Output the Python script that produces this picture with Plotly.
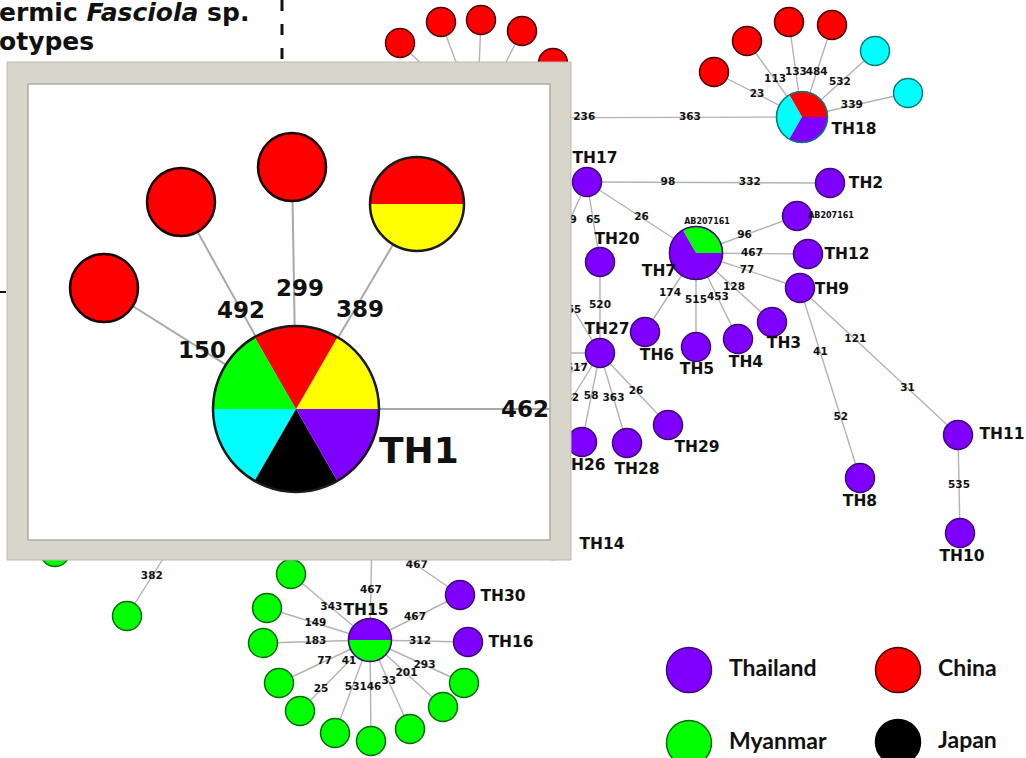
import math
import plotly.graph_objects as go

# ---------------------------------------------------------------- data
legend_countries = ["Thailand", "China", "Myanmar", "Japan"]

# haplotypes shared by several countries: (country, share) in slice order,
# slices run counter-clockwise from 3 o'clock
mixed_haplotypes = {
    "TH1": [("Group6", 1), ("China", 1), ("Myanmar", 1), ("Group5", 1), ("Japan", 1), ("Thailand", 1)],
    "TH7": [("Myanmar", 1), ("Thailand", 2)],
    "TH15": [("Thailand", 1), ("Myanmar", 1)],
    "TH18": [("China", 1), ("Group5", 1), ("Thailand", 1)],
    "CN_Y": [("China", 1), ("Group6", 1)],
}

thai_haplotypes = ["TH2", "TH3", "TH4", "TH5", "TH6", "TH8", "TH9", "TH10", "TH11", "TH12",
                   "TH13", "TH14", "TH16", "TH17", "TH19", "TH20", "TH21", "TH22", "TH23",
                   "TH24", "TH25", "TH26", "TH27", "TH28", "TH29", "TH30", "AB207161"]
china_haplotypes = ["CN1", "CN2", "CN3", "CN4", "CN5", "CN6", "CN7", "CN8", "CN9"]
myanmar_haplotypes = ["MM1", "MM2", "MM3", "MM4", "MM5", "MM6", "MM7", "MM8", "MM9", "MM10",
                      "MM11", "MM12", "MM13"]
group5_haplotypes = ["X1", "X2"]

# network links with the mutation positions written on them
edges = [
    ("TH19", "TH18", ["236", "363"]),
    ("TH19", "CN1", []), ("TH19", "CN2", []), ("TH19", "CN3", []), ("TH19", "CN4", []), ("TH19", "CN5", []),
    ("TH18", "CN6", ["23"]), ("TH18", "CN7", ["113"]), ("TH18", "CN8", ["133"]), ("TH18", "CN9", ["484"]),
    ("TH18", "X1", ["532"]), ("TH18", "X2", ["339"]),
    ("TH17", "TH2", ["98", "332"]), ("TH17", "TH7", ["26"]), ("TH17", "TH20", ["65"]), ("TH17", "TH21", ["49"]),
    ("TH20", "TH27", ["520"]),
    ("TH7", "AB207161", ["96"]), ("TH7", "TH12", ["467"]), ("TH7", "TH9", ["77"]), ("TH7", "TH3", ["128"]),
    ("TH7", "TH4", ["453"]), ("TH7", "TH5", ["515"]), ("TH7", "TH6", ["174"]),
    ("TH9", "TH8", ["41", "52"]), ("TH9", "TH11", ["121", "31"]), ("TH11", "TH10", ["535"]),
    ("TH27", "TH21", ["55"]), ("TH27", "TH22", []), ("TH27", "TH23", ["517"]), ("TH27", "TH24", ["42"]),
    ("TH27", "TH26", ["58"]), ("TH27", "TH28", ["363"]), ("TH27", "TH29", ["26"]),
    ("TH24", "TH14", []),
    ("TH15", "TH25", ["467"]), ("TH15", "TH30", ["467"]), ("TH30", "TH13", ["467"]), ("TH15", "TH16", ["312"]),
    ("TH15", "MM1", ["343"]), ("TH15", "MM2", ["149"]), ("TH15", "MM3", ["183"]), ("TH15", "MM4", ["77"]),
    ("TH15", "MM5", ["41", "25"]), ("TH15", "MM6", ["53"]), ("TH15", "MM7", ["146"]), ("TH15", "MM8", ["33"]),
    ("TH15", "MM9", ["201"]), ("TH15", "MM10", ["293"]),
    ("MM11", "MM13", ["382"]), ("MM13", "MM12", []),
]

# enlarged view of the TH1 star
inset_edges = [
    ("TH1", "CN10", ["150"]), ("TH1", "CN11", ["492"]), ("TH1", "CN12", ["299"]),
    ("TH1", "CN_Y", ["389"]), ("TH1", "TH1_link", ["462"]),
]
inset_china = ["CN10", "CN11", "CN12"]

title_lines = ["ermic <i>Fasciola</i> sp.", "otypes"]

# ---------------------------------------------------------------- styles
FILL = {"Thailand": "#8000ff", "China": "#ff0000", "Myanmar": "#00ff00", "Japan": "#000000",
        "Group5": "#00ffff", "Group6": "#ffff00"}
RIM = {"Thailand": "#3c0a78", "China": "#4a0000", "Myanmar": "#0a6a0a", "Japan": "#000000",
       "Group5": "#0a7a7a", "Group6": "#6a6a00"}
EDGE_COLOR = "#b3b3b3"
LABEL_FONT = "DejaVu Sans"

# ---------------------------------------------------------------- layout (page pixels)
pos = {
    "TH18": (802, 117), "TH19": (477, 118),
    "CN1": (400, 43), "CN2": (441, 22), "CN3": (481, 20), "CN4": (522, 31), "CN5": (553, 63),
    "CN6": (714, 72), "CN7": (747, 41), "CN8": (789, 22), "CN9": (832, 25), "X1": (875, 51), "X2": (908, 93),
    "TH17": (587, 182), "TH2": (830, 183), "TH7": (696, 253), "AB207161": (797, 216), "TH12": (808, 254),
    "TH9": (800, 288), "TH3": (772, 322), "TH4": (738, 339), "TH5": (696, 347), "TH6": (645, 332),
    "TH20": (600, 262), "TH27": (600, 353), "TH26": (582, 442), "TH28": (627, 443), "TH29": (668, 425),
    "TH8": (860, 478), "TH11": (958, 435), "TH10": (960, 533),
    "TH21": (548, 268), "TH22": (515, 353), "TH23": (530, 400), "TH24": (540, 450), "TH14": (553, 545),
    "TH15": (370, 640), "TH25": (373, 480), "TH30": (460, 595), "TH13": (380, 540), "TH16": (468, 642),
    "MM1": (291, 574), "MM2": (267, 608), "MM3": (263, 643), "MM4": (279, 683), "MM5": (300, 711),
    "MM6": (335, 733), "MM7": (371, 741), "MM8": (410, 729), "MM9": (443, 707), "MM10": (464, 683),
    "MM11": (127, 616), "MM12": (55, 552), "MM13": (200, 500),
}
radius = {"TH18": 26, "TH7": 27, "TH15": 22}
DEFAULT_R = 15

# where each mutation label sits along its link (fraction from the first node)
label_frac = {
    ("TH19", "TH18"): [0.33, 0.655],
    ("TH18", "CN6"): [0.51], ("TH18", "CN7"): [0.49], ("TH18", "CN8"): [0.47], ("TH18", "CN9"): [0.49],
    ("TH18", "X1"): [0.52], ("TH18", "X2"): [0.47],
    ("TH17", "TH2"): [0.333, 0.67], ("TH17", "TH7"): [0.5], ("TH17", "TH20"): [0.48], ("TH17", "TH21"): [0.45],
    ("TH20", "TH27"): [0.48],
    ("TH7", "AB207161"): [0.48], ("TH7", "TH12"): [0.5], ("TH7", "TH9"): [0.49], ("TH7", "TH3"): [0.5],
    ("TH7", "TH4"): [0.52], ("TH7", "TH5"): [0.5], ("TH7", "TH6"): [0.51],
    ("TH9", "TH8"): [0.34, 0.68], ("TH9", "TH11"): [0.35, 0.68], ("TH11", "TH10"): [0.51],
    ("TH27", "TH21"): [0.5], ("TH27", "TH23"): [0.33], ("TH27", "TH24"): [0.47],
    ("TH27", "TH26"): [0.49], ("TH27", "TH28"): [0.5], ("TH27", "TH29"): [0.53],
    ("TH15", "TH25"): [0.31], ("TH15", "TH30"): [0.5], ("TH30", "TH13"): [0.54], ("TH15", "TH16"): [0.51],
    ("TH15", "MM1"): [0.49], ("TH15", "MM2"): [0.53], ("TH15", "MM3"): [0.51], ("TH15", "MM4"): [0.5],
    ("TH15", "MM5"): [0.3, 0.7], ("TH15", "MM6"): [0.51], ("TH15", "MM7"): [0.47], ("TH15", "MM8"): [0.47],
    ("TH15", "MM9"): [0.5], ("TH15", "MM10"): [0.58],
    ("MM11", "MM13"): [0.34],
}

# node captions: text offset from node centre
caption_offset = {
    "TH18": (52, 13), "TH17": (8, -23), "TH2": (36, 1), "TH7": (-37, 19), "TH12": (39, 1),
    "TH9": (32, 2), "TH3": (12, 22), "TH4": (8, 24), "TH5": (1, 23), "TH6": (12, 24),
    "TH20": (17, -22), "TH27": (7, -23), "TH26": (1, 24), "TH28": (10, 27), "TH29": (29, 23),
    "TH8": (0, 24), "TH11": (44, 0), "TH10": (2, 24), "TH14": (49, 0), "TH15": (-4, -29),
    "TH30": (43, 2), "TH16": (43, 1),
}
small_captions = [("AB207161", "AB207161", (34, 0)), ("TH7", "AB207161", (11, -31))]

legend_pos = {"Thailand": (689, 670), "China": (898, 670), "Myanmar": (689, 743), "Japan": (898, 742)}
LEGEND_TEXT_DX = 40

inset_outer = (7, 62, 571, 560)
inset_inner = (28, 84, 550, 540)
inset_pos = {"TH1": (296, 409), "CN10": (104, 288), "CN11": (181, 202), "CN12": (292, 167),
             "CN_Y": (417, 204), "TH1_link": (550, 409)}
inset_radius = {"TH1": 83, "CN10": 34, "CN11": 34, "CN12": 34, "CN_Y": 47}
inset_label_frac = {("TH1", "CN10"): [0.49], ("TH1", "CN11"): [0.48], ("TH1", "CN12"): [0.5],
                    ("TH1", "CN_Y"): [0.49], ("TH1", "TH1_link"): [0.9]}
inset_label_nudge = {("TH1", "CN12"): (6, 0), ("TH1", "CN_Y"): (5, 0)}

heading_y = [12, 41]
HEADING_SIZE = 25


# ---------------------------------------------------------------- helpers
def rad(name):
    return radius.get(name, DEFAULT_R)


def along(p, q, t):
    return p[0] + (q[0] - p[0]) * t, p[1] + (q[1] - p[1]) * t


def slice_angles(parts):
    total = sum(v for _, v in parts)
    a = 0.0
    out = []
    for country, v in parts:
        span = 360.0 * v / total
        out.append((country, a, a + span))
        a += span
    return out


def wedge_points(cx, cy, r, a0, a1, n=60):
    pts = [(cx, cy)]
    for i in range(n + 1):
        a = math.radians(a0 + (a1 - a0) * i / n)
        pts.append((cx + r * math.cos(a), cy - r * math.sin(a)))
    pts.append((cx, cy))
    return pts


fig = go.Figure()

# ---------------------------------------------------------------- main network: links
ex, ey = [], []
for a, b, _ in edges:
    ex += [pos[a][0], pos[b][0], None]
    ey += [pos[a][1], pos[b][1], None]
fig.add_trace(go.Scatter(x=ex, y=ey, mode="lines", line=dict(color=EDGE_COLOR, width=1.4),
                         hoverinfo="skip"))

# single-country haplotypes
for country, members in [("Thailand", thai_haplotypes), ("China", china_haplotypes),
                         ("Myanmar", myanmar_haplotypes), ("Group5", group5_haplotypes)]:
    fig.add_trace(go.Scatter(
        x=[pos[m][0] for m in members], y=[pos[m][1] for m in members], mode="markers",
        marker=dict(size=[2 * rad(m) - 1 for m in members], color=FILL[country], opacity=1,
                    line=dict(color=RIM[country], width=1.5)),
        hoverinfo="skip"))

# shared haplotypes drawn as pies
for name, parts in mixed_haplotypes.items():
    if name not in pos:
        continue
    cx, cy = pos[name]
    r = rad(name)
    for country, a0, a1 in slice_angles(parts):
        pts = wedge_points(cx, cy, r, a0, a1)
        fig.add_trace(go.Scatter(x=[p[0] for p in pts], y=[p[1] for p in pts], mode="lines",
                                 fill="toself", fillcolor=FILL[country], line=dict(width=0),
                                 hoverinfo="skip"))
    fig.add_trace(go.Scatter(x=[cx], y=[cy], mode="markers",
                             marker=dict(size=2 * r - 1, color="rgba(0,0,0,0)", opacity=1,
                                         line=dict(color="#3c0a78" if name != "TH18" else "#0a7a7a",
                                                   width=1.6)),
                             hoverinfo="skip"))

# mutation labels
lx, ly, lt = [], [], []
for a, b, muts in edges:
    for m, t in zip(muts, label_frac.get((a, b), [])):
        x, y = along(pos[a], pos[b], t)
        lx.append(x); ly.append(y); lt.append(m)
fig.add_trace(go.Scatter(x=lx, y=ly, text=lt, mode="text",
                         textfont=dict(family=LABEL_FONT, size=10.5, color="#111111", weight="bold"),
                         hoverinfo="skip"))

# haplotype captions
cx_, cy_, ct = [], [], []
for name, (dx, dy) in caption_offset.items():
    cx_.append(pos[name][0] + dx); cy_.append(pos[name][1] + dy); ct.append(name)
fig.add_trace(go.Scatter(x=cx_, y=cy_, text=ct, mode="text",
                         textfont=dict(family=LABEL_FONT, size=15.5, color="#111111", weight="bold"),
                         hoverinfo="skip"))
fig.add_trace(go.Scatter(
    x=[pos[n][0] + d[0] for n, _, d in small_captions], y=[pos[n][1] + d[1] for n, _, d in small_captions],
    text=[t for _, t, _ in small_captions], mode="text",
    textfont=dict(family=LABEL_FONT, size=8, color="#111111", weight="bold"), hoverinfo="skip"))

# legend
for country in legend_countries:
    x, y = legend_pos[country]
    fig.add_trace(go.Scatter(x=[x], y=[y], mode="markers",
                             marker=dict(size=45, color=FILL[country], opacity=1,
                                         line=dict(color=RIM[country], width=1.5)),
                             hoverinfo="skip"))
fig.add_trace(go.Scatter(
    x=[legend_pos[c][0] + LEGEND_TEXT_DX for c in legend_countries],
    y=[legend_pos[c][1] for c in legend_countries], text=legend_countries, mode="text",
    textposition="middle right",
    textfont=dict(family="Lato", size=23, color="#111111", weight="bold"), hoverinfo="skip"))

# ---------------------------------------------------------------- shapes: guide lines and inset
shapes = [
    dict(type="line", x0=282, x1=282, y0=0, y1=90, line=dict(color="#111111", width=3, dash="11px,13px")),
    dict(type="line", x0=-6, x1=60, y0=292, y1=292, line=dict(color="#111111", width=2, dash="12px,10px")),
]
ox0, oy0, ox1, oy1 = inset_outer
ix0, iy0, ix1, iy1 = inset_inner
shapes += [
    dict(type="rect", x0=ox0, y0=oy0, x1=ox1, y1=oy1, fillcolor="#d8d5cb",
         line=dict(color="#bdbab0", width=1)),
    dict(type="rect", x0=ix0, y0=iy0, x1=ix1, y1=iy1, fillcolor="#ffffff",
         line=dict(color="#aeaba1", width=1.5)),
]
for a, b, _ in inset_edges:
    (x0, y0), (x1, y1) = inset_pos[a], inset_pos[b]
    shapes.append(dict(type="line", x0=x0, y0=y0, x1=x1, y1=y1, line=dict(color="#a9a9a9", width=2)))
for name in inset_china:
    x, y = inset_pos[name]
    r = inset_radius[name]
    shapes.append(dict(type="circle", x0=x - r, x1=x + r, y0=y - r, y1=y + r,
                       fillcolor=FILL["China"], line=dict(color="#1a0000", width=2.5)))
for name in ["TH1", "CN_Y"]:
    x, y = inset_pos[name]
    r = inset_radius[name]
    for country, a0, a1 in slice_angles(mixed_haplotypes[name]):
        pts = wedge_points(x, y, r, a0, a1)
        path = "M " + " L ".join(f"{px:.2f},{py:.2f}" for px, py in pts) + " Z"
        shapes.append(dict(type="path", path=path, fillcolor=FILL[country], line=dict(width=0)))
    shapes.append(dict(type="circle", x0=x - r, x1=x + r, y0=y - r, y1=y + r,
                       fillcolor="rgba(0,0,0,0)", line=dict(color="#1a1a1a", width=2.5)))
for s in shapes:
    s.update(xref="x", yref="y", layer="above")

# ---------------------------------------------------------------- annotations
annotations = []
for a, b, muts in inset_edges:
    for m, t in zip(muts, inset_label_frac[(a, b)]):
        x, y = along(inset_pos[a], inset_pos[b], t)
        dx, dy = inset_label_nudge.get((a, b), (0, 0))
        annotations.append(dict(x=x + dx, y=y + dy, text=f"<b>{m}</b>", showarrow=False,
                                xref="x", yref="y",
                                font=dict(family=LABEL_FONT, size=23, color="#111111")))
annotations.append(dict(x=inset_pos["TH1"][0] + 123, y=inset_pos["TH1"][1] + 41, text="<b>TH1</b>",
                        showarrow=False, xref="x", yref="y",
                        font=dict(family=LABEL_FONT, size=36, color="#111111")))
# heading, running off the left edge of the page
for line, hy in zip(title_lines, heading_y):
    annotations.append(dict(x=0, y=1 - hy / 758, xref="paper", yref="paper",
                            xshift=-3, text=f"<b>{line}</b>", showarrow=False,
                            xanchor="left", yanchor="middle",
                            font=dict(family=LABEL_FONT, size=HEADING_SIZE, color="#111111")))

fig.update_layout(
    width=1026, height=758, margin=dict(l=0, r=0, t=0, b=0),
    paper_bgcolor="white", plot_bgcolor="white", showlegend=False,
    xaxis=dict(range=[0, 1026], visible=False, fixedrange=True),
    yaxis=dict(range=[758, 0], visible=False, fixedrange=True),
    shapes=shapes, annotations=annotations,
)

fig.write_html("out.html", config={"displayModeBar": False})
